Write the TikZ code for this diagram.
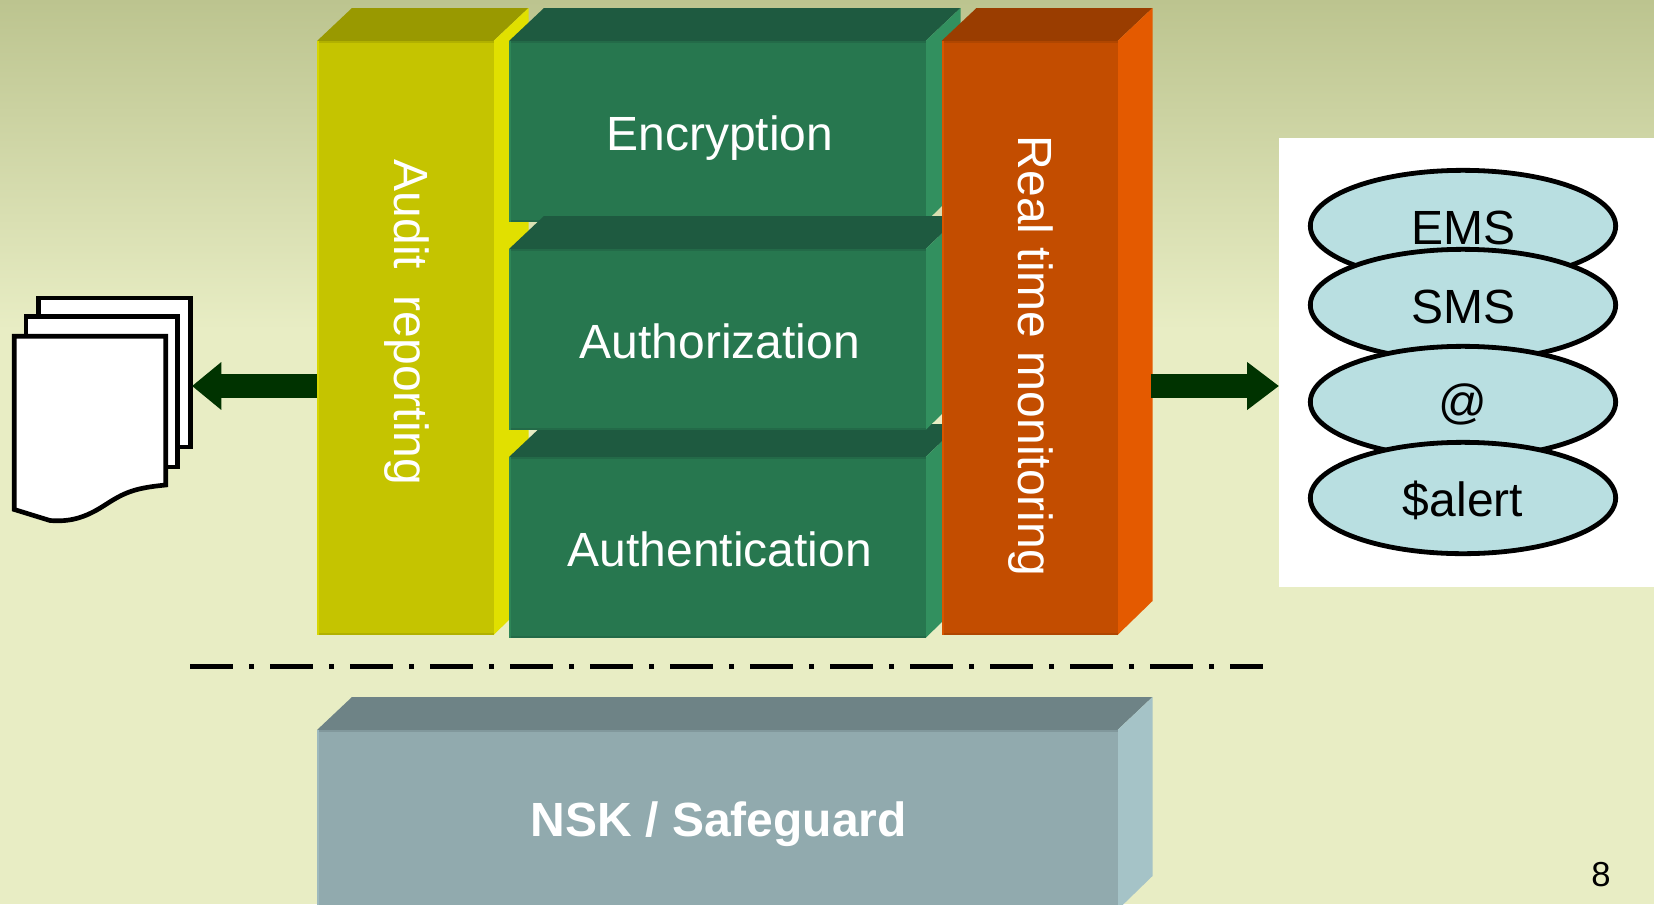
\documentclass[tikz,border=0pt]{standalone}
\usepackage{fontspec}
\setmainfont{Liberation Sans}
\usetikzlibrary{shapes.geometric,arrows.meta}
\definecolor{bgtop}{RGB}{188,196,143}
\definecolor{bgbot}{RGB}{232,237,196}
\definecolor{yfront}{RGB}{197,196,0}
\definecolor{ytop}{RGB}{153,153,0}
\definecolor{yside}{RGB}{225,224,0}
\definecolor{gfront}{RGB}{39,119,79}
\definecolor{gtop}{RGB}{30,90,64}
\definecolor{gside}{RGB}{50,144,95}
\definecolor{ofront}{RGB}{195,77,0}
\definecolor{otop}{RGB}{154,61,0}
\definecolor{oside}{RGB}{228,90,0}
\definecolor{sfront}{RGB}{145,170,174}
\definecolor{stop}{RGB}{110,131,134}
\definecolor{sside}{RGB}{165,195,199}
\definecolor{ellfill}{RGB}{185,223,225}
\definecolor{arrowgreen}{RGB}{0,51,0}
\def\pxu{0.75pt}
% name, x1, y1, x2, y2, depth, front, top, side
\newcommand{\solidbox}[9]{%
  \fill[#8] (#2,#3) -- (#2+#6,#3-#6+2) -- (#4+#6,#3-#6+2) -- (#4,#3) -- cycle;
  \fill[#9] (#4,#3) -- (#4+#6,#3-#6+2) -- (#4+#6,#5-#6+1) -- (#4,#5) -- cycle;
  \node[facebox,fill=#7,anchor=north west,minimum width={(#4-#2)*\pxu},minimum height={(#5-#3)*\pxu}] (#1) at (#2,#3) {};
  \fill[#8!45!#7] (#2,#3) rectangle (#4,#3+2);
  \fill[#8!45!#7] (#2,#5-2) rectangle (#4,#5);
  \fill[#9!60!#7] (#2,#3) rectangle (#2+2,#5);
}
\newcommand{\elltext}[1]{\raisebox{-1.5pt}[\height][\depth]{#1}}
\tikzset{
  x=0.75pt,y=-0.75pt,
  facebox/.style={inner sep=0pt,outer sep=0pt,draw=none},
  boxlabel/.style={text=white,font=\fontsize{36pt}{40pt}\selectfont,inner sep=0pt,text height=25.8pt,text depth=0pt},
  pagesheet/.style={draw=black,fill=white,line width=3.5pt,inner sep=0pt,outer sep=0pt,anchor=north west,miter limit=10},
  ell/.style={ellipse,draw=black,fill=ellfill,line width=3.6pt,inner sep=0pt,minimum width=229pt,minimum height=83.5pt,text=black,font=\fontsize{36pt}{40pt}\selectfont},
  blockarrow/.style={draw=arrowgreen,line width=18pt,-{Triangle[length=22pt,width=34.5pt,fill=arrowgreen]}},
  blockarrowlong/.style={draw=arrowgreen,line width=18pt,-{Triangle[length=24pt,width=34.5pt,fill=arrowgreen]}},
  dashrule/.style={draw=black,line width=3.75pt,dash pattern=on 32.25pt off 12pt on 4pt off 11.75pt}
}
\begin{document}
\begin{tikzpicture}
\useasboundingbox (0,0) rectangle (1654,904);
\fill[bgbot] (0,0) rectangle (1654,904);
\shade[top color=bgtop,bottom color=bgbot] (0,0) rectangle (1654,330);
% white panel
\node[facebox,fill=white,anchor=north west,minimum width={375*\pxu},minimum height={449*\pxu}] (panel) at (1279,138) {};
% blocks
\solidbox{audit}{317}{41}{493.5}{635}{35}{yfront}{ytop}{yside}
\solidbox{enc}{509}{41}{925.5}{222}{35}{gfront}{gtop}{gside}
\solidbox{authn}{509}{457}{925.5}{638}{35}{gfront}{gtop}{gside}
\solidbox{authz}{509}{249}{925.5}{430}{35}{gfront}{gtop}{gside}
\solidbox{rtm}{941.5}{41}{1117.5}{635}{35}{ofront}{otop}{oside}
\solidbox{nsk}{317}{730}{1117.5}{910}{35}{sfront}{stop}{sside}
% labels
\node[boxlabel] (enctext) at ([xshift=1.9pt,yshift=-1.2pt]enc.center) {Encryption};
\node[boxlabel] (authztext) at ([xshift=1.9pt,yshift=-1.2pt]authz.center) {Authorization};
\node[boxlabel] (authntext) at ([xshift=1.9pt,yshift=-1.2pt]authn.center) {Authentication};
\node[boxlabel,rotate=-90,text height=0pt,text depth=0pt] (audittext) at (406,322.5) {\raisebox{-9pt}{Audit\ \ reporting}};
\node[boxlabel,rotate=-90,text height=0pt,text depth=0pt] (rtmtext) at (1030,356) {\raisebox{-9pt}{Real time monitoring}};
\node[boxlabel,font=\fontsize{36pt}{40pt}\selectfont\bfseries] (nsktext) at (719,819) {NSK / Safeguard};
% documents
\node[pagesheet,minimum width={152.2*\pxu},minimum height={149*\pxu}] (docback) at (38.3,298) {};
\node[pagesheet,minimum width={151.7*\pxu},minimum height={150.5*\pxu}] (docmid) at (26,316.5) {};
\draw[draw=black,fill=white,line width=3.5pt,line join=miter] (14.3,336.3) -- (165.7,336.3) -- (165.7,485)
  .. controls (135,488) and (125,492) .. (105,505)
  .. controls (85,518) and (70,522) .. (50,520.5) -- (14.3,509.5) -- cycle;
% arrows
\coordinate (auditout) at (audit.west |- 0,386);
\coordinate (docin) at (192,386);
\draw[blockarrow] (auditout) -- (docin);
\coordinate (rtmout) at (1151,386);
\draw[blockarrowlong] (rtmout) -- (panel.west |- rtmout);
% separator
\coordinate (ruleL) at (190,666);
\coordinate (ruleR) at (1263,666);
\draw[dashrule] (ruleL) -- (ruleR);
% alerts
\node[ell] (ems) at (1463,226) {\elltext{EMS}};
\node[ell] (sms) at (1463,305) {\elltext{SMS}};
\node[ell] (mail) at (1463,402) {\elltext{@}};
\node[ell] (alert) at (1463,498) {\elltext{\$alert}};
% page number
\node[inner sep=0pt,text=black,font=\fontsize{26pt}{30pt}\selectfont] (pageno) at (1601,875) {8};
\end{tikzpicture}
\end{document}
